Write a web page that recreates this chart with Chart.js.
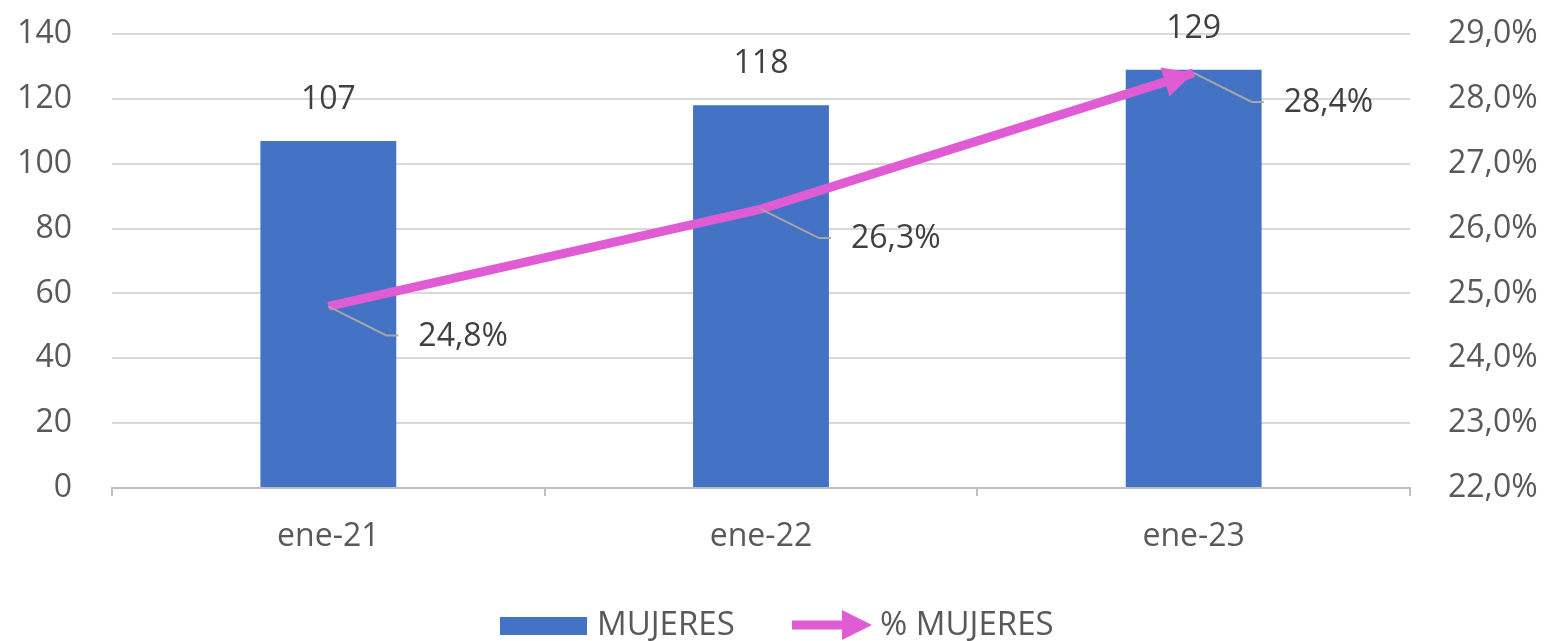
<!DOCTYPE html>
<html>
<head>
<meta charset="utf-8">
<script src="https://cdn.jsdelivr.net/npm/chart.js@4/dist/chart.umd.min.js"></script>
<style>
  html, body { margin: 0; padding: 0; background: #fff; }
  #wrap { width: 1552px; height: 641px; }
</style>
</head>
<body>
<div id="wrap"><canvas id="myChart"></canvas></div>
<script>
// datos
let labels = ['ene-21', 'ene-22', 'ene-23'];
let mujeres = [107, 118, 129];
let pctMujeres = [0.248, 0.263, 0.284];
let leftTicks = [0, 20, 40, 60, 80, 100, 120, 140];
let rightTicks = [0.22, 0.23, 0.24, 0.25, 0.26, 0.27, 0.28, 0.29];

let blue = '#4472C4';
let pink = '#E05CD4';
let txt = '#595959';
let font = "'Open Sans', 'Noto Sans', sans-serif";

function pctFmt(v) {
    return (v * 100).toFixed(1).replace('.', ',') + '%';
}

// etiquetas, flecha y leyenda dibujadas a mano
const extras = {
    id: 'extras',
    afterDatasetsDraw(chart) {
        const ctx = chart.ctx;
        const barMeta = chart.getDatasetMeta(0);
        const lineMeta = chart.getDatasetMeta(1);

        // punta de flecha al final de la linea
        const pts = lineMeta.data;
        const a = pts[pts.length - 2], b = pts[pts.length - 1];
        const ang = Math.atan2(b.y - a.y, b.x - a.x);
        ctx.save();
        ctx.fillStyle = pink;
        ctx.translate(b.x, b.y);
        ctx.rotate(ang);
        ctx.beginPath();
        ctx.moveTo(0, 0);
        ctx.lineTo(-30, -15);
        ctx.lineTo(-30, 15);
        ctx.closePath();
        ctx.fill();
        ctx.restore();

        // valores de las barras
        ctx.save();
        ctx.font = '32px ' + font;
        ctx.fillStyle = '#404040';
        ctx.textAlign = 'center';
        ctx.textBaseline = 'alphabetic';
        barMeta.data.forEach((bar, i) => {
            ctx.fillText(mujeres[i], bar.x, bar.y - 32);
        });

        // etiquetas del porcentaje con linea guia
        ctx.textAlign = 'left';
        ctx.textBaseline = 'middle';
        pts.forEach((p, i) => {
            const ex = p.x + 58, ey = p.y + 29;
            ctx.strokeStyle = '#a6a6a6';
            ctx.lineWidth = 2;
            ctx.beginPath();
            ctx.moveTo(p.x, p.y);
            ctx.lineTo(ex, ey);
            ctx.lineTo(ex + 12, ey);
            ctx.stroke();
            ctx.fillText(pctFmt(pctMujeres[i]), p.x + 90, ey + 1);
        });
        ctx.restore();

        // leyenda
        ctx.save();
        const base = 635;
        ctx.fillStyle = blue;
        ctx.fillRect(500, 617, 87, 18);
        ctx.font = '33px ' + font;
        ctx.fillStyle = txt;
        ctx.textBaseline = 'alphabetic';
        ctx.fillText('MUJERES', 597, base);
        const ly = 625;
        ctx.strokeStyle = pink;
        ctx.lineWidth = 9;
        ctx.beginPath();
        ctx.moveTo(792, ly);
        ctx.lineTo(846, ly);
        ctx.stroke();
        ctx.fillStyle = pink;
        ctx.beginPath();
        ctx.moveTo(872, ly);
        ctx.lineTo(842, ly - 15);
        ctx.lineTo(842, ly + 15);
        ctx.closePath();
        ctx.fill();
        ctx.fillStyle = txt;
        ctx.fillText('% MUJERES', 880, base);
        ctx.restore();
    }
};

let chart = new Chart(document.getElementById('myChart').getContext('2d'), {
    type: 'bar',
    data: {
        labels: labels,
        datasets: [{
            label: 'MUJERES',
            data: mujeres,
            backgroundColor: blue,
            categoryPercentage: 1,
            barPercentage: 0.314,
            yAxisID: 'y',
            order: 2
        }, {
            type: 'line',
            label: '% MUJERES',
            data: pctMujeres,
            borderColor: pink,
            borderWidth: 9,
            pointRadius: 0,
            yAxisID: 'y1',
            order: 1
        }]
    },
    options: {
        responsive: true,
        maintainAspectRatio: false,
        animation: false,
        layout: { padding: { top: 34, left: 0, right: 0, bottom: 0 } },
        plugins: {
            legend: { display: false },
            tooltip: { enabled: false }
        },
        scales: {
            x: {
                offset: true,
                grid: {
                    offset: true,
                    drawOnChartArea: false,
                    drawTicks: true,
                    tickLength: 8,
                    color: '#bfbfbf',
                    lineWidth: 2
                },
                border: { color: '#bfbfbf', width: 2 },
                ticks: { color: txt, font: { size: 32, family: font }, padding: 22 },
                afterFit(s) { s.height = 153; }
            },
            y: {
                position: 'left',
                min: 0,
                max: 140,
                afterBuildTicks(s) { s.ticks = leftTicks.map(v => ({ value: v })); },
                // la separacion va en tickLength para no empujar el area hacia abajo
                grid: { color: '#d9d9d9', lineWidth: 2, drawTicks: true, tickLength: 40, tickColor: 'rgba(0,0,0,0)' },
                border: { display: false },
                ticks: { color: txt, font: { size: 32, family: font }, padding: 0 },
                afterFit(s) { s.width = 112; }
            },
            y1: {
                position: 'right',
                min: 0.22,
                max: 0.29,
                afterBuildTicks(s) { s.ticks = rightTicks.map(v => ({ value: v })); },
                grid: { drawOnChartArea: false, drawTicks: true, tickLength: 38, tickColor: 'rgba(0,0,0,0)' },
                border: { display: false },
                ticks: {
                    color: txt,
                    font: { size: 32, family: font },
                    padding: 0,
                    callback: v => pctFmt(v)
                },
                afterFit(s) { s.width = 142; }
            }
        }
    },
    plugins: [extras]
});
</script>
</body>
</html>
